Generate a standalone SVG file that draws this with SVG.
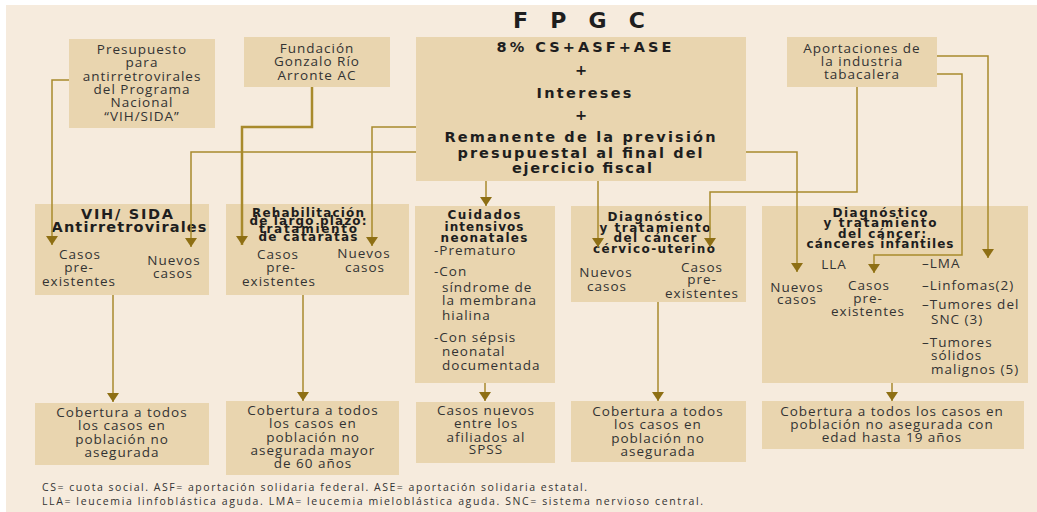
<svg xmlns="http://www.w3.org/2000/svg" width="1037" height="512" viewBox="0 0 1037 512">
<style>
.bg{fill:#F6EBDD}
.box{fill:#E9D5AF}
.t{font-family:"Open Sans","Liberation Sans",sans-serif;font-size:13.5px;fill:#333;letter-spacing:1px}
.c{text-anchor:middle}
.h{font-family:"DejaVu Sans","Liberation Sans",sans-serif;font-weight:700;font-size:12px;fill:#1e1e1e;text-anchor:middle}
.m{font-family:"DejaVu Sans","Liberation Sans",sans-serif;font-weight:700;font-size:14.5px;fill:#1e1e1e;text-anchor:middle}
.fn{font-family:"Open Sans","Liberation Sans",sans-serif;font-size:10.5px;fill:#333}
.conn path{fill:none;stroke:#A88A2C;stroke-width:1.5}
</style>
<defs>
<marker id="ah" markerUnits="userSpaceOnUse" markerWidth="9" markerHeight="12" refX="9" refY="6" orient="auto" viewBox="0 0 9 12">
<path d="M0,0 L9,6 L0,12 Z" fill="#8E6F14"/>
</marker>
</defs>
<rect x="0" y="0" width="1037" height="512" fill="#FFFFFF"/>
<rect class="bg" x="6" y="5" width="1031" height="507"/>
<text x="579" y="28" font-family="DejaVu Sans, sans-serif" font-weight="700" font-size="22" fill="#1e1e1e" text-anchor="middle" textLength="132" lengthAdjust="spacing">F P G C</text>

<g id="presupuesto">
<rect class="box" x="69" y="39" width="146" height="89"/>
<text class="t c" x="142" y="54">Presupuesto</text>
<text class="t c" x="142" y="67">para</text>
<text class="t c" x="142" y="81">antirretrovirales</text>
<text class="t c" x="142" y="94">del Programa</text>
<text class="t c" x="142" y="107">Nacional</text>
<text class="t c" x="142" y="121">“VIH/SIDA”</text>
</g>

<g id="fundacion">
<rect class="box" x="244" y="37" width="146" height="50"/>
<text class="t c" x="317" y="53">Fundación</text>
<text class="t c" x="317" y="66">Gonzalo Río</text>
<text class="t c" x="317" y="80">Arronte AC</text>
</g>

<g id="fpgc">
<rect class="box" x="416" y="37" width="330" height="144"/>
<text class="m" x="584" y="52" textLength="175" lengthAdjust="spacing">8% CS+ASF+ASE</text>
<text class="m" x="581" y="75">+</text>
<text class="m" x="584" y="98" textLength="95" lengthAdjust="spacing">Intereses</text>
<text class="m" x="581" y="120">+</text>
<text class="m" x="580" y="142" textLength="271" lengthAdjust="spacing">Remanente de la previsión</text>
<text class="m" x="580" y="158" textLength="245" lengthAdjust="spacing">presupuestal al final del</text>
<text class="m" x="582" y="173" textLength="140" lengthAdjust="spacing">ejercicio fiscal</text>
</g>

<g id="aportaciones">
<rect class="box" x="787" y="37" width="150" height="50"/>
<text class="t c" x="862" y="53">Aportaciones de</text>
<text class="t c" x="862" y="66">la industria</text>
<text class="t c" x="862" y="79">tabacalera</text>
</g>

<g id="vih">
<rect class="box" x="35" y="204" width="174" height="91"/>
<text class="m" x="127" y="219" textLength="92" lengthAdjust="spacing">VIH/ SIDA</text>
<text class="m" x="129" y="232" textLength="155" lengthAdjust="spacing">Antirretrovirales</text>
<text class="t c" x="80" y="259">Casos</text>
<text class="t c" x="79" y="272">pre-</text>
<text class="t c" x="79" y="286">existentes</text>
<text class="t c" x="174" y="265">Nuevos</text>
<text class="t c" x="173" y="278">casos</text>
</g>

<g id="rehabilitacion">
<rect class="box" x="226" y="204" width="183" height="91"/>
<text class="h" x="308" y="217" textLength="112" lengthAdjust="spacing">Rehabilitación</text>
<text class="h" x="308" y="225" textLength="117" lengthAdjust="spacing">de largo plazo:</text>
<text class="h" x="308" y="233" textLength="98" lengthAdjust="spacing">tratamiento</text>
<text class="h" x="308" y="241" textLength="99" lengthAdjust="spacing">de cataratas</text>
<text class="t c" x="278" y="259">Casos</text>
<text class="t c" x="281" y="272">pre-</text>
<text class="t c" x="279" y="286">existentes</text>
<text class="t c" x="364" y="258">Nuevos</text>
<text class="t c" x="365" y="272">casos</text>
</g>

<g id="cuidados">
<rect class="box" x="415" y="206" width="140" height="177"/>
<text class="h" x="484" y="219" textLength="73" lengthAdjust="spacing">Cuidados</text>
<text class="h" x="484" y="231" textLength="79" lengthAdjust="spacing">intensivos</text>
<text class="h" x="484" y="242" textLength="87" lengthAdjust="spacing">neonatales</text>
<text class="t" x="434" y="255">-Prematuro</text>
<text class="t" x="434" y="276">-Con</text>
<text class="t" x="442" y="292">síndrome de</text>
<text class="t" x="442" y="305">la membrana</text>
<text class="t" x="442" y="320">hialina</text>
<text class="t" x="434" y="342">-Con sépsis</text>
<text class="t" x="442" y="356">neonatal</text>
<text class="t" x="442" y="370">documentada</text>
</g>

<g id="cervico">
<rect class="box" x="571" y="206" width="175" height="96"/>
<text class="h" x="655" y="221" textLength="95" lengthAdjust="spacing">Diagnóstico</text>
<text class="h" x="655" y="232" textLength="111" lengthAdjust="spacing">y tratamiento</text>
<text class="h" x="655" y="242" textLength="83" lengthAdjust="spacing">del cáncer</text>
<text class="h" x="654" y="253" textLength="122" lengthAdjust="spacing">cérvico-uterino</text>
<text class="t c" x="606" y="277">Nuevos</text>
<text class="t c" x="607" y="291">casos</text>
<text class="t c" x="702" y="272">Casos</text>
<text class="t c" x="702" y="284">pre-</text>
<text class="t c" x="702" y="298">existentes</text>
</g>

<g id="canceres">
<rect class="box" x="762" y="206" width="266" height="177"/>
<text class="h" x="880" y="217" textLength="95" lengthAdjust="spacing">Diagnóstico</text>
<text class="h" x="880" y="227" textLength="113" lengthAdjust="spacing">y tratamiento</text>
<text class="h" x="882" y="238" textLength="88" lengthAdjust="spacing">del cáncer:</text>
<text class="h" x="880" y="248" textLength="147" lengthAdjust="spacing">cánceres infantiles</text>
<text class="t c" x="834" y="269">LLA</text>
<text class="t c" x="797" y="292">Nuevos</text>
<text class="t c" x="797" y="304">casos</text>
<text class="t c" x="869" y="290">Casos</text>
<text class="t c" x="868" y="303">pre-</text>
<text class="t c" x="868" y="316">existentes</text>
<text class="t" x="922" y="268">–LMA</text>
<text class="t" x="922" y="290">–Linfomas(2)</text>
<text class="t" x="922" y="309">–Tumores del</text>
<text class="t" x="931" y="324">SNC (3)</text>
<text class="t" x="922" y="347">–Tumores</text>
<text class="t" x="931" y="360">sólidos</text>
<text class="t" x="931" y="374">malignos (5)</text>
</g>

<g id="cobertura-vih">
<rect class="box" x="35" y="403" width="174" height="62"/>
<text class="t c" x="122" y="417">Cobertura a todos</text>
<text class="t c" x="122" y="430">los casos en</text>
<text class="t c" x="122" y="444">población no</text>
<text class="t c" x="122" y="457">asegurada</text>
</g>

<g id="cobertura-rehab">
<rect class="box" x="226" y="401" width="173" height="74"/>
<text class="t c" x="313" y="415">Cobertura a todos</text>
<text class="t c" x="313" y="428">los casos en</text>
<text class="t c" x="313" y="442">población no</text>
<text class="t c" x="313" y="455">asegurada mayor</text>
<text class="t c" x="313" y="468">de 60 años</text>
</g>

<g id="casos-spss">
<rect class="box" x="416" y="402" width="139" height="61"/>
<text class="t c" x="486" y="415">Casos nuevos</text>
<text class="t c" x="486" y="428">entre los</text>
<text class="t c" x="486" y="442">afiliados al</text>
<text class="t c" x="486" y="454">SPSS</text>
</g>

<g id="cobertura-cervico">
<rect class="box" x="571" y="401" width="175" height="61"/>
<text class="t c" x="658" y="416">Cobertura a todos</text>
<text class="t c" x="658" y="429">los casos en</text>
<text class="t c" x="658" y="443">población no</text>
<text class="t c" x="658" y="456">asegurada</text>
</g>

<g id="cobertura-canceres">
<rect class="box" x="762" y="401" width="262" height="48"/>
<text class="t c" x="892" y="416">Cobertura a todos los casos en</text>
<text class="t c" x="892" y="429">población no asegurada con</text>
<text class="t c" x="892" y="442">edad hasta 19 años</text>
</g>

<g class="conn">
<path d="M69,80 H52 V245" marker-end="url(#ah)"/>
<path d="M416,152 H191 V247" marker-end="url(#ah)"/>
<path d="M312,87 V127 H242 V245" marker-end="url(#ah)" style="stroke-width:2.5"/>
<path d="M416,127 H372 V246" marker-end="url(#ah)"/>
<path d="M486,181 V206" marker-end="url(#ah)"/>
<path d="M598,181 V247" marker-end="url(#ah)"/>
<path d="M857,87 V192 H710 V247" marker-end="url(#ah)"/>
<path d="M746,152 H797 V272" marker-end="url(#ah)"/>
<path d="M937,56 H988 V258" marker-end="url(#ah)"/>
<path d="M937,74 H962 V255 H874 V273" marker-end="url(#ah)"/>
<path d="M113,295 V402" marker-end="url(#ah)"/>
<path d="M303,295 V401" marker-end="url(#ah)"/>
<path d="M485,383 V401" marker-end="url(#ah)"/>
<path d="M658,302 V401" marker-end="url(#ah)"/>
<path d="M892,383 V401" marker-end="url(#ah)"/>
</g>

<text class="fn" x="42" y="491" textLength="545" lengthAdjust="spacing">CS= cuota social. ASF= aportación solidaria federal. ASE= aportación solidaria estatal.</text>
<text class="fn" x="42" y="505" textLength="661" lengthAdjust="spacing">LLA= leucemia linfoblástica aguda. LMA= leucemia mieloblástica aguda. SNC= sistema nervioso central.</text>
</svg>
